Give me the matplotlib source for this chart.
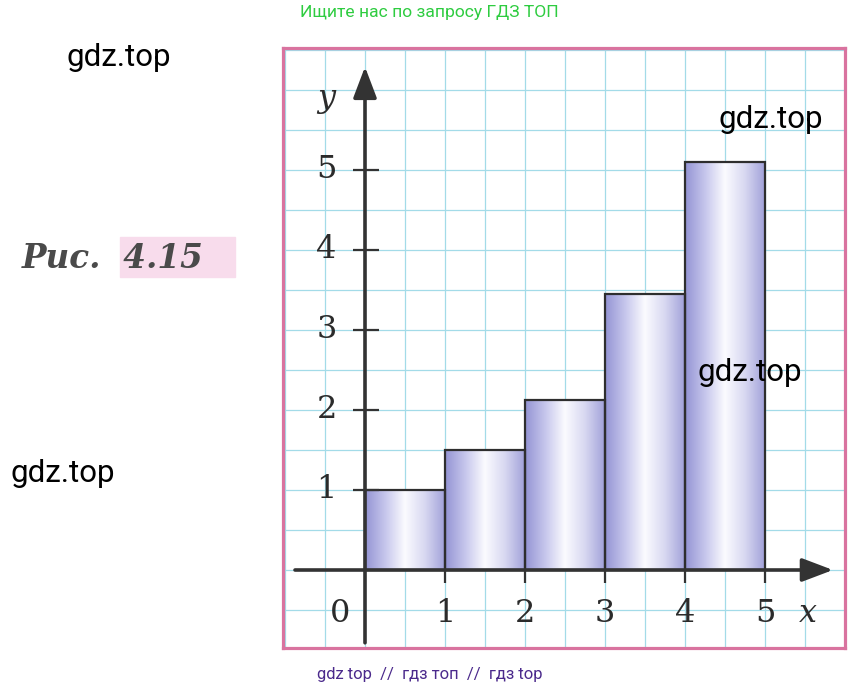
import numpy as np
import matplotlib
matplotlib.use("Agg")
from matplotlib import pyplot as plt
from matplotlib.colors import LinearSegmentedColormap
from matplotlib.patches import Rectangle

# ---- data ----
bar_left = [0, 1, 2, 3, 4]
bar_height = [1.0, 1.5, 2.12, 3.45, 5.1]
x_ticks = [1, 2, 3, 4, 5]
y_ticks = [1, 2, 3, 4, 5]
caption = "Рис.  4.15"
top_note = "Ищите нас по запросу ГДЗ ТОП"
bottom_note = "gdz top  //  гдз топ  //  гдз top"
watermarks = [(67, 58), (718, 119), (697, 372), (10, 474)]  # pixel positions

W, H = 863, 689
fig = plt.figure(figsize=(W / 100, H / 100), dpi=100)
fig.patch.set_facecolor("white")

# axes spans the pink frame: 80 px per unit
ax = fig.add_axes([283 / W, 1 - 648 / H, (845 - 283) / W, 600 / H])
ax.set_xlim(-1.025, 6.0)
ax.set_ylim(-0.975, 6.525)

# squared paper
ax.set_xticks(np.arange(-1, 6.01, 0.5))
ax.set_yticks(np.arange(-0.5, 6.51, 0.5))
ax.grid(True, color="#a3dbe8", lw=0.9)
ax.tick_params(length=0, labelbottom=False, labelleft=False)
ax.set_axisbelow(True)
for s in ax.spines.values():
    s.set_color("#d9739f")
    s.set_linewidth(2.3)

# bars with a lavender gradient
cmap = LinearSegmentedColormap.from_list(
    "lav", ["#9494d4", "#c6c6ec", "#fbfbff", "#d8d8f1", "#a2a2da"])
grad = np.linspace(0, 1, 200).reshape(1, -1)
for x0, h in zip(bar_left, bar_height):
    ax.imshow(grad, extent=[x0, x0 + 1, 0, h], cmap=cmap, aspect="auto",
              interpolation="bilinear", zorder=2)
ax.bar(bar_left, bar_height, width=1, align="edge", fill=False,
       edgecolor="#2e2e2e", lw=1.6, zorder=3)

# coordinate axes with arrows
axis_col = "#333333"
arrow = dict(arrowstyle="-|>,head_length=0.95,head_width=0.36",
             lw=2.6, color=axis_col, shrinkA=0, shrinkB=0, mutation_scale=20)
ax.annotate("", xy=(5.85, 0), xytext=(-0.875, 0), arrowprops=arrow, zorder=4)
ax.annotate("", xy=(0, 6.29), xytext=(0, -0.91), arrowprops=arrow, zorder=4)
ax.hlines(y_ticks, -0.15, 0.17, color=axis_col, lw=1.6, zorder=4)
ax.vlines(x_ticks, -0.16, 0, color=axis_col, lw=1.6, zorder=4)

num_font = dict(family="DejaVu Serif", fontsize=23, color="#2b2b2b")
for v in x_ticks:
    ax.text(v, -0.54, str(v), ha="center", va="center", **num_font)
for v in y_ticks:
    ax.text(-0.48, v, str(v), ha="center", va="center", **num_font)
ax.text(-0.31, -0.54, "0", ha="center", va="center", **num_font)
ax.text(5.54, -0.54, "x", ha="center", va="center", style="italic", **num_font)
ax.text(-0.48, 5.9, "y", ha="center", va="center", style="italic", **num_font)

# caption with pink highlight
fig.patches.append(Rectangle((120 / W, 1 - 277 / H), 115 / W, 40 / H,
                             transform=fig.transFigure, color="#f8dcec",
                             zorder=0))
fig.text(22 / W, 1 - 258 / H, caption, family="DejaVu Serif", fontsize=23.5,
         weight="bold", style="italic", color="#4a4a4a", va="center", zorder=2)

# watermark texts
for px, py in watermarks:
    fig.text(px / W, 1 - py / H, "gdz.top", family="Roboto", fontsize=22.5,
             color="black", va="center", ha="left")
fig.text(300 / W, 1 - 12 / H, top_note, family="Roboto", fontsize=12.6,
         color="#2ecc40", va="center", ha="left")
fig.text(317 / W, 1 - 675 / H, bottom_note, family="Roboto", fontsize=12,
         color="#4b2a8c", va="center", ha="left")

fig.savefig("out.png", dpi=100)
